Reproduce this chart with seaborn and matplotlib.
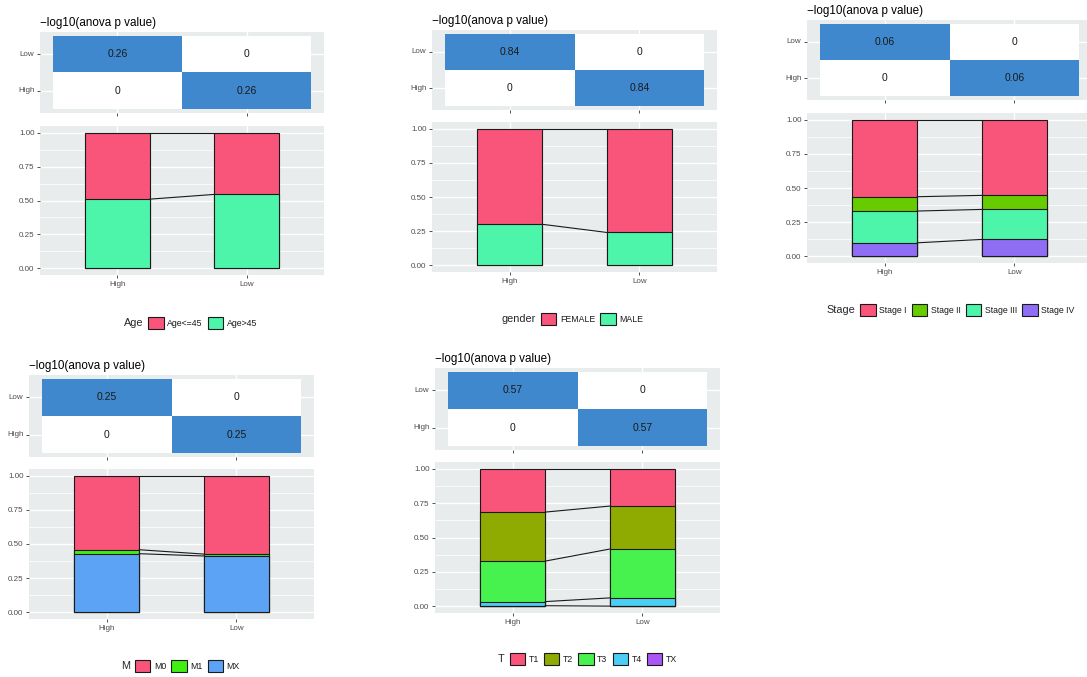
import numpy as np
import pandas as pd
import matplotlib
matplotlib.use("Agg")
import matplotlib.pyplot as plt
import matplotlib.patches as mpatches
from matplotlib.colors import ListedColormap
from matplotlib.ticker import FixedLocator
import seaborn as sns

# ---------------- data ----------------
groups = ["High", "Low"]
heat_rows = ["Low", "High"]

age_levels = ["Age<=45", "Age>45"]
age_colors = ["#F9557B", "#4CF5AA"]
age_high = [0.49, 0.51]
age_low = [0.455, 0.545]
age_pval = 0.26

gender_levels = ["FEMALE", "MALE"]
gender_colors = ["#F9557B", "#4CF5AA"]
gender_high = [0.70, 0.30]
gender_low = [0.76, 0.24]
gender_pval = 0.84

stage_levels = ["Stage I", "Stage II", "Stage III", "Stage IV"]
stage_colors = ["#F9557B", "#66CC00", "#4CF5AA", "#8F6DF5"]
stage_high = [0.564, 0.105, 0.233, 0.098]
stage_low = [0.554, 0.103, 0.220, 0.123]
stage_pval = 0.06

m_levels = ["M0", "M1", "MX"]
m_colors = ["#F9557B", "#42EE12", "#5CA3F5"]
m_high = [0.542, 0.029, 0.429]
m_low = [0.574, 0.014, 0.412]
m_pval = 0.25

t_levels = ["T1", "T2", "T3", "T4", "TX"]
t_colors = ["#F9557B", "#8FAA00", "#47F24F", "#4CCDF3", "#A957F5"]
t_high = [0.315, 0.357, 0.295, 0.030, 0.003]
t_low = [0.271, 0.313, 0.356, 0.060, 0.000]
t_pval = 0.57

title_text = "\u2212log10(anova p value)"

# ---------------- style ----------------
sns.set_style("darkgrid")
plt.rcParams["font.family"] = ["Liberation Sans", "DejaVu Sans"]

W, H = 1087, 677
BG = "#E9ECEC"
BLUE = "#3F88CD"
TICKC = "#4D4D4D"

fig = plt.figure(figsize=(W / 100, H / 100), dpi=100)
fig.patch.set_facecolor("white")


def box(x0, y0, x1, y1):
    return [x0 / W, 1 - y1 / H, (x1 - x0) / W, (y1 - y0) / H]


def style_ticks(ax):
    ax.tick_params(axis="both", which="major", length=2.5, width=0.6,
                   color="#333333", labelsize=5.8, labelcolor=TICKC, pad=1.5,
                   bottom=True, left=True)
    ax.tick_params(axis="both", which="minor", length=0)
    for s in ax.spines.values():
        s.set_visible(False)


def draw_panel(name, levels, colors, high, low, pval, hm_box, bar_box, leg_xy):
    # ---- heatmap ----
    ax_h = fig.add_axes(box(*hm_box))
    mat = pd.DataFrame([[pval, 0.0], [0.0, pval]], index=heat_rows, columns=groups)
    labels = np.array([[f"{v:g}" for v in row] for row in mat.values])
    sns.heatmap(mat, ax=ax_h, cmap=ListedColormap(["white", BLUE]),
                vmin=0, vmax=pval, annot=labels, fmt="", cbar=False,
                linewidths=0, annot_kws=dict(size=7.5, color="#1A1A1A"))
    ax_h.set_facecolor(BG)
    ax_h.set_xlim(-0.1, 2.1)
    ax_h.set_ylim(2.1, -0.1)
    ax_h.set_axisbelow(True)
    ax_h.grid(True, color="white", lw=1.0)
    ax_h.set_xlabel("")
    ax_h.set_ylabel("")
    style_ticks(ax_h)
    ax_h.tick_params(axis="x", labelbottom=False)
    ax_h.tick_params(axis="y", labelrotation=0)
    fig.text(hm_box[0] / W, 1 - (hm_box[1] - 3) / H, title_text,
             ha="left", va="bottom", fontsize=8.4, color="black")

    # ---- stacked bars ----
    ax_b = fig.add_axes(box(*bar_box))
    ax_b.set_facecolor(BG)
    props = pd.DataFrame({"High": high, "Low": low}, index=levels)
    cum = props.iloc[::-1].cumsum().iloc[::-1]
    for lvl, col in zip(levels, colors):
        sns.barplot(x=groups, y=cum.loc[lvl, groups].values, order=groups,
                    color=col, saturation=1, width=0.5, edgecolor="#1A1A1A",
                    linewidth=0.8, ax=ax_b, zorder=2)
    for lvl in levels:
        ax_b.plot([0.25, 0.75], cum.loc[lvl, groups].values,
                  color="#1A1A1A", lw=0.8, zorder=3)
    ax_b.set_xlim(-0.6, 1.6)
    ax_b.set_ylim(-0.05, 1.05)
    yt = [0, 0.25, 0.5, 0.75, 1.0]
    ax_b.yaxis.set_major_locator(FixedLocator(yt))
    ax_b.set_yticklabels([f"{t:.2f}" for t in yt])
    ax_b.yaxis.set_minor_locator(FixedLocator([0.125, 0.375, 0.625, 0.875]))
    ax_b.set_axisbelow(True)
    ax_b.grid(True, which="major", color="white", lw=1.0)
    ax_b.grid(True, which="minor", axis="y", color="white", lw=0.5)
    ax_b.set_xlabel("")
    ax_b.set_ylabel("")
    style_ticks(ax_b)

    # ---- legend ----
    handles = [mpatches.Patch(facecolor="none", edgecolor="none")]
    handles += [mpatches.Patch(facecolor=c, edgecolor="#1A1A1A", linewidth=0.8)
                for c in colors]
    labs = [name] + list(levels)
    lx, ly = leg_xy
    leg = fig.legend(handles, labs, loc="center",
                     bbox_to_anchor=((lx - 9) / W, 1 - ly / H),
                     ncol=len(handles), frameon=False, fontsize=6.3,
                     handlelength=1.75, handleheight=1.75, handletextpad=0.4,
                     columnspacing=0.6, borderpad=0, borderaxespad=0)
    t0 = leg.get_texts()[0]
    t0.set_fontsize(7.8)
    for t in leg.get_texts()[1:]:
        t.set_color("#1A1A1A")


draw_panel("Age", age_levels, age_colors, age_high, age_low, age_pval,
           (40, 32, 324, 113), (40, 126, 324, 275), (190, 323))
draw_panel("gender", gender_levels, gender_colors, gender_high, gender_low, gender_pval,
           (432, 30, 717, 110), (432, 122, 717, 272), (572, 319))
draw_panel("Stage", stage_levels, stage_colors, stage_high, stage_low, stage_pval,
           (807, 20, 1092, 100), (807, 113, 1092, 263), (950, 310))
draw_panel("M", m_levels, m_colors, m_high, m_low, m_pval,
           (29, 375, 314, 457), (29, 469, 314, 619), (180, 666))
draw_panel("T", t_levels, t_colors, t_high, t_low, t_pval,
           (435, 368, 720, 450), (435, 462, 720, 613), (587, 659))

fig.savefig("out.png", dpi=100, facecolor="white")
